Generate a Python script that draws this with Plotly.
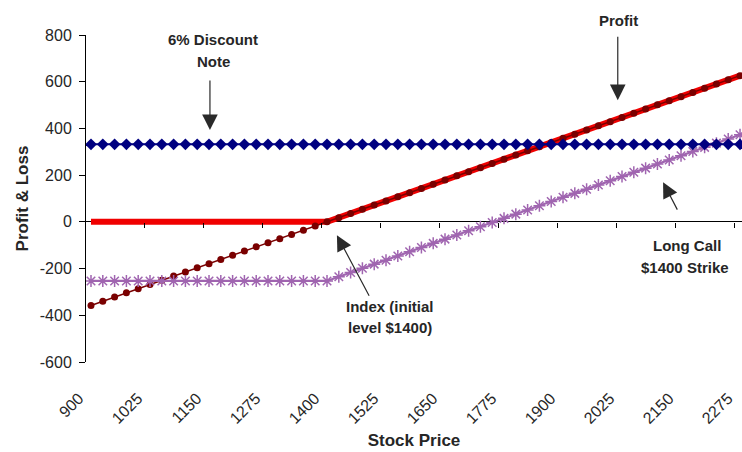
import plotly.graph_objects as go

# ---- data ----
stock_price = [900, 925, 950, 975, 1000, 1025, 1050, 1075, 1100, 1125,
               1150, 1175, 1200, 1225, 1250, 1275, 1300, 1325, 1350, 1375,
               1400, 1425, 1450, 1475, 1500, 1525, 1550, 1575, 1600, 1625,
               1650, 1675, 1700, 1725, 1750, 1775, 1800, 1825, 1850, 1875,
               1900, 1925, 1950, 1975, 2000, 2025, 2050, 2075, 2100, 2125,
               2150, 2175, 2200, 2225, 2250, 2275]

index_pl = [-358, -340, -322, -304, -286, -268, -250, -232, -215, -197,
            -179, -161, -143, -125, -107, -89, -72, -54, -36, -18,
            0, 18, 36, 54, 72, 89, 107, 125, 143, 161,
            179, 197, 215, 232, 250, 268, 286, 304, 322, 340,
            358, 375, 393, 411, 429, 447, 465, 483, 501, 518,
            536, 554, 572, 590, 608, 626]

profit_pl = [0, 0, 0, 0, 0, 0, 0, 0, 0, 0,
             0, 0, 0, 0, 0, 0, 0, 0, 0, 0,
             0, 18, 36, 54, 72, 89, 107, 125, 143, 161,
             179, 197, 215, 232, 250, 268, 286, 304, 322, 340,
             358, 375, 393, 411, 429, 447, 465, 483, 501, 518,
             536, 554, 572, 590, 608, 626]

call_pl = [-253, -253, -253, -253, -253, -253, -253, -253, -253, -253,
           -253, -253, -253, -253, -253, -253, -253, -253, -253, -253,
           -253, -235, -217, -199, -181, -164, -146, -128, -110, -92,
           -74, -56, -38, -21, -3, 15, 33, 51, 69, 87,
           105, 122, 140, 158, 176, 194, 212, 230, 248, 265,
           283, 301, 319, 337, 355, 373]

note_pl = [332] * 56

x_tick_labels = ["900", "1025", "1150", "1275", "1400", "1525",
                 "1650", "1775", "1900", "2025", "2150", "2275"]
x_tick_vals = [900, 1025, 1150, 1275, 1400, 1525,
               1650, 1775, 1900, 2025, 2150, 2275]
x_tick_marks = [887.5, 1012.5, 1137.5, 1262.5, 1387.5, 1512.5,
                1637.5, 1762.5, 1887.5, 2012.5, 2137.5, 2262.5]
y_tick_vals = [-600, -400, -200, 0, 200, 400, 600, 800]
y_tick_labels = ["-600", "-400", "-200", "0", "200", "400", "600", "800"]

# ---- layout geometry ----
W, H = 742, 452
ML, MR, MT, MB = 86, 0, 35, 90
XR = [889.4, 2279.2]
YR = [-600, 800]
FONT = "Liberation Sans, Arial, sans-serif"
TXT = "#262626"


def px_x(p):
    return (p - ML) / (W - ML - MR)


def px_y(p):
    return 1 - (p - MT) / (H - MT - MB)


fig = go.Figure()

fig.add_trace(go.Scatter(x=stock_price, y=profit_pl, mode="lines",
                         line=dict(color="#f00000", width=6),
                         name="Profit", hoverinfo="skip"))
fig.add_trace(go.Scatter(x=stock_price, y=index_pl, mode="lines+markers",
                         line=dict(color="#7a0000", width=1.5),
                         marker=dict(symbol="circle", size=7, color="#7a0000"),
                         name="Index"))
fig.add_trace(go.Scatter(x=stock_price, y=call_pl, mode="lines+markers",
                         line=dict(color="#a065b0", width=2.2),
                         marker=dict(symbol="asterisk-open", size=10,
                                     line=dict(color="#6a1a7e", width=1.5)),
                         name="Long Call"))
fig.add_trace(go.Scatter(x=stock_price, y=note_pl, mode="lines+markers",
                         xaxis="x2",
                         line=dict(color="#000080", width=2),
                         marker=dict(symbol="diamond", size=9, color="#000080"),
                         name="6% Discount Note"))

ann = []


def label(text, px, py):
    ann.append(dict(text="<b>%s</b>" % text, xref="paper", yref="paper",
                    x=px_x(px), y=px_y(py), showarrow=False,
                    xanchor="center", yanchor="middle",
                    font=dict(family=FONT, size=15, color=TXT)))


def arrow(x, y, ax, ay):
    ann.append(dict(text="", x=x, y=y, xref="x", yref="y",
                    ax=ax, ay=ay, axref="pixel", ayref="pixel",
                    showarrow=True, arrowhead=2, arrowsize=2.6,
                    arrowwidth=1.2, arrowcolor="#2a2a2a"))


label("6% Discount", 213, 40)
label("Note", 213, 62)
arrow(1152, 393, 0, -51)

label("Profit", 618, 21)
arrow(2016, 521, 0, -65)

label("Index (initial", 390, 306)
label("level $1400)", 390, 327)
arrow(1421, -57, 33, 62)

label("Long Call", 687, 245)
label("$1400 Strike", 685, 267)
arrow(2112, 170, 15, 29)

fig.update_layout(
    width=W, height=H,
    margin=dict(l=ML, r=MR, t=MT, b=MB, pad=0),
    paper_bgcolor="white", plot_bgcolor="white",
    showlegend=False,
    font=dict(family=FONT, color=TXT),
    annotations=ann,
    xaxis=dict(range=XR, showgrid=False, zeroline=False, showline=False,
               ticks="", tickmode="array", tickvals=x_tick_vals,
               ticktext=x_tick_labels, tickangle=-45,
               tickfont=dict(family=FONT, size=16, color=TXT),
               ticklabelstandoff=23, ticklabelshift=-12,
               title=dict(text="<b>Stock Price</b>", standoff=8,
                          font=dict(family=FONT, size=17, color=TXT))),
    xaxis2=dict(range=XR, overlaying="x", anchor="free",
                position=600 / 1400, side="bottom",
                showgrid=False, zeroline=False, showline=False,
                ticks="outside", ticklen=5, tickwidth=1, tickcolor="black",
                tickmode="array", tickvals=x_tick_marks,
                showticklabels=False),
    yaxis=dict(range=YR, showgrid=False, showline=True, linecolor="black",
               linewidth=1, ticks="outside", ticklen=6, tickcolor="black",
               tickmode="array", tickvals=y_tick_vals, ticktext=y_tick_labels,
               zeroline=True, zerolinecolor="black", zerolinewidth=1,
               tickfont=dict(family=FONT, size=16, color=TXT),
               ticklabelstandoff=4,
               title=dict(text="<b>Profit &amp; Loss</b>", standoff=6,
                          font=dict(family=FONT, size=17, color=TXT))),
)

fig.write_html("out.html")
